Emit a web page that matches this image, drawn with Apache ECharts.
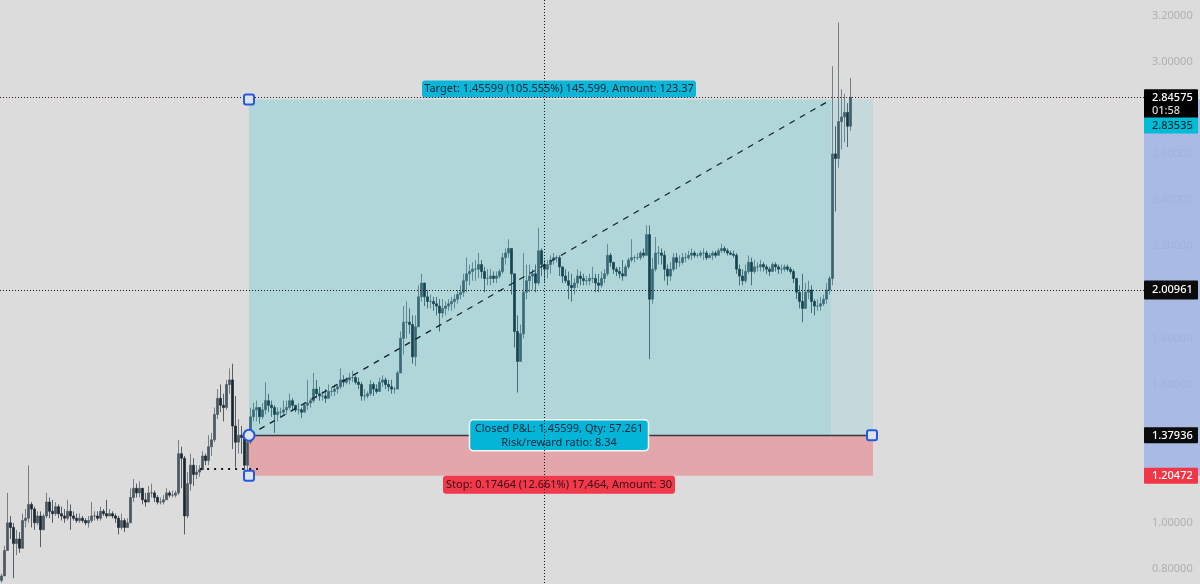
<!DOCTYPE html>
<html><head><meta charset="utf-8">
<style>html,body{margin:0;padding:0;background:#dcdcdc}#c{width:1200px;height:584px}</style>
<script src="https://cdn.jsdelivr.net/npm/echarts@6/dist/echarts.min.js"></script>
</head><body><div id="c"></div>
<script>
const firstOpen = 0.75;
const closes = [
0.77,0.88,1.00,0.98,0.91,0.93,0.89,1.01,1.02,1.08,
1.06,1.00,1.03,0.97,1.03,1.09,1.05,1.04,1.07,1.04,
1.03,1.02,1.05,1.03,1.02,1.01,1.02,1.01,1.00,1.01,
1.03,1.03,1.02,1.05,1.04,1.03,1.04,1.03,1.02,0.98,
1.01,0.98,1.00,1.11,1.15,1.13,1.15,1.10,1.09,1.13,
1.13,1.11,1.09,1.09,1.10,1.13,1.12,1.12,1.13,1.30,
1.28,1.03,1.17,1.25,1.21,1.22,1.23,1.29,1.27,1.33,
1.36,1.47,1.54,1.51,1.50,1.60,1.62,1.42,1.35,1.38,
1.37,1.25,1.35,1.46,1.49,1.50,1.46,1.49,1.53,1.51,
1.50,1.47,1.48,1.48,1.49,1.50,1.53,1.51,1.49,1.49,
1.48,1.51,1.52,1.53,1.58,1.56,1.55,1.55,1.54,1.57,
1.57,1.58,1.59,1.62,1.61,1.62,1.63,1.63,1.61,1.60,
1.55,1.55,1.56,1.60,1.58,1.57,1.61,1.62,1.60,1.59,
1.58,1.58,1.65,1.80,1.87,1.87,1.86,1.72,1.85,1.98,
2.04,1.98,1.96,1.96,1.95,1.94,1.91,1.93,1.94,1.95,
1.96,1.97,1.99,2.00,2.05,2.08,2.09,2.10,2.10,2.12,
2.09,2.06,2.06,2.07,2.06,2.07,2.09,2.15,2.17,2.19,
2.08,1.83,1.70,1.82,2.00,2.05,2.07,2.08,2.04,2.18,
2.12,2.10,2.12,2.14,2.15,2.15,2.11,2.07,2.05,2.03,
2.02,2.04,2.07,2.06,2.05,2.05,2.06,2.06,2.04,2.03,
2.06,2.08,2.16,2.13,2.10,2.09,2.08,2.07,2.11,2.14,
2.15,2.15,2.15,2.17,2.16,2.25,1.97,2.10,2.17,2.17,
2.16,2.10,2.07,2.10,2.15,2.13,2.13,2.15,2.15,2.16,
2.17,2.16,2.16,2.17,2.17,2.15,2.16,2.17,2.16,2.18,
2.19,2.18,2.17,2.165,2.16,2.10,2.07,2.05,2.09,2.13,
2.09,2.11,2.11,2.12,2.11,2.10,2.09,2.12,2.11,2.10,
2.10,2.11,2.10,2.09,2.06,2.00,1.96,1.93,2.00,2.01,
1.96,1.94,1.94,1.95,1.97,2.01,2.06,2.60,2.58,2.74,
2.76,2.78,2.72,2.84575];
const lows = [
0.74,0.77,0.88,0.93,0.76,0.86,0.87,0.90,0.98,1.00,
0.98,0.97,0.99,0.895,0.98,1.02,1.02,1.00,1.03,1.02,
1.01,1.00,1.01,0.97,1.01,1.00,1.00,1.00,0.99,0.98,
1.00,1.01,1.01,1.01,1.03,1.02,1.03,1.02,1.00,0.95,
0.97,0.96,0.98,1.00,1.09,1.11,1.11,1.08,1.07,1.09,
1.11,1.09,1.08,1.08,1.08,1.10,1.11,1.11,1.11,1.12,
1.15,0.95,1.02,1.14,1.16,1.19,1.20,1.23,1.25,1.25,
1.29,1.35,1.45,1.48,1.44,1.49,1.56,1.32,1.24,1.30,
1.30,1.23,1.22,1.34,1.44,1.44,1.43,1.45,1.47,1.48,
1.46,1.39,1.44,1.46,1.47,1.47,1.49,1.49,1.48,1.47,
1.455,1.48,1.49,1.50,1.52,1.54,1.53,1.53,1.52,1.54,
1.55,1.55,1.56,1.58,1.59,1.60,1.60,1.61,1.60,1.58,
1.53,1.53,1.54,1.55,1.55,1.56,1.57,1.59,1.58,1.57,
1.56,1.56,1.58,1.65,1.73,1.80,1.82,1.69,1.68,1.88,
1.96,1.94,1.93,1.93,1.92,1.90,1.83,1.89,1.90,1.92,
1.92,1.93,1.95,1.97,1.98,2.00,2.03,2.05,2.05,2.06,
2.06,2.00,2.03,2.03,2.04,2.04,2.06,2.08,2.12,2.15,
1.99,1.76,1.565,1.70,1.80,1.97,2.00,2.01,2.00,2.03,
2.07,2.04,2.06,2.08,2.12,2.13,2.07,2.04,2.04,1.97,
1.96,1.99,2.02,2.03,2.03,2.03,2.03,2.04,2.00,2.00,
2.02,2.04,2.07,2.11,2.08,2.07,2.06,2.05,2.07,2.10,
2.13,2.13,2.14,2.14,2.15,2.16,1.71,1.95,2.09,2.12,
2.12,2.05,2.03,2.05,2.09,2.10,2.11,2.12,2.13,2.14,
2.14,2.15,2.15,2.15,2.14,2.14,2.15,2.14,2.15,2.16,
2.17,2.17,2.16,2.16,2.15,2.08,2.03,2.03,2.04,2.08,
2.03,2.08,2.09,2.09,2.09,2.08,2.07,2.09,2.09,2.08,
2.08,2.09,2.09,2.08,2.04,1.97,1.93,1.87,1.95,1.97,
1.91,1.90,1.92,1.92,1.94,1.95,1.99,2.03,2.35,2.54,
2.62,2.65,2.63,2.70];
const highs = [
0.78,0.90,1.13,1.03,1.00,0.97,0.96,1.04,1.06,1.25,
1.09,1.07,1.05,1.05,1.04,1.13,1.11,1.10,1.09,1.08,
1.07,1.06,1.10,1.08,1.05,1.04,1.04,1.03,1.02,1.03,
1.09,1.05,1.05,1.07,1.06,1.10,1.06,1.05,1.04,1.03,
1.04,1.02,1.02,1.15,1.19,1.17,1.18,1.14,1.13,1.16,
1.17,1.14,1.12,1.11,1.12,1.15,1.14,1.14,1.14,1.36,
1.33,1.29,1.22,1.30,1.28,1.25,1.25,1.31,1.30,1.38,
1.39,1.50,1.58,1.60,1.56,1.62,1.67,1.69,1.55,1.45,
1.42,1.40,1.38,1.50,1.52,1.53,1.50,1.52,1.61,1.56,
1.53,1.51,1.50,1.50,1.53,1.53,1.56,1.54,1.51,1.52,
1.50,1.52,1.62,1.54,1.65,1.62,1.59,1.57,1.58,1.60,
1.59,1.60,1.60,1.67,1.64,1.63,1.65,1.66,1.64,1.63,
1.61,1.58,1.57,1.62,1.61,1.60,1.63,1.64,1.63,1.62,
1.62,1.59,1.66,1.83,1.94,1.96,1.93,1.90,1.90,2.03,
2.08,2.04,2.01,1.99,1.98,1.98,1.97,1.97,1.96,1.97,
1.98,1.99,2.01,2.03,2.08,2.15,2.12,2.13,2.14,2.17,
2.14,2.11,2.10,2.10,2.09,2.09,2.10,2.17,2.19,2.23,
2.19,2.08,1.90,1.86,2.17,2.12,2.12,2.10,2.12,2.28,
2.19,2.14,2.14,2.16,2.17,2.16,2.16,2.10,2.10,2.09,
2.08,2.06,2.10,2.09,2.08,2.07,2.08,2.11,2.08,2.08,
2.09,2.10,2.21,2.17,2.13,2.11,2.11,2.14,2.12,2.15,
2.23,2.16,2.17,2.18,2.19,2.29,2.29,2.15,2.24,2.20,
2.19,2.18,2.12,2.13,2.17,2.17,2.16,2.17,2.17,2.18,
2.19,2.18,2.17,2.18,2.19,2.18,2.17,2.18,2.18,2.19,
2.21,2.20,2.19,2.18,2.18,2.17,2.12,2.10,2.12,2.16,
2.15,2.14,2.13,2.14,2.13,2.12,2.11,2.13,2.13,2.12,
2.12,2.12,2.12,2.11,2.10,2.05,2.03,2.08,2.04,2.05,
2.03,1.97,1.97,1.98,1.99,2.04,2.07,2.98,2.72,3.17,
2.88,2.86,2.82,2.93];

const entryPrice = 1.37936, targetPrice = 2.83535, stopPrice = 1.20472;
const crossPriceA = 2.84575, crossPriceB = 2.00961, stopHitPrice = 1.235;
const entryBar = 83, exitBar = 277, endBar = 291, crossBar = 181.3;
const stopHitFrom = 66.7, stopHitTo = 86;
const targetText = 'Target: 1.45599 (105.555%) 145,599, Amount: 123.37';
const closedText = 'Closed P&L: 1.45599, Qty: 57.261\nRisk/reward ratio: 8.34';
const stopText = 'Stop: 0.17464 (12.661%) 17,464, Amount: 30';

const candles = closes.map((c, i) => [i + 0.5, i ? closes[i - 1] : firstOpen, c, lows[i], highs[i]]);
const FONT = '"Noto Sans", sans-serif';
const chart = echarts.init(document.getElementById('c'), null, {renderer: 'canvas'});
chart.setOption({
  animation: false,
  backgroundColor: '#dcdcdc',
  grid: {left: 0, top: -30.6, width: 1143, height: 645.7, containLabel: false, outerBoundsMode: 'none'},
  xAxis: {type: 'value', min: 0, max: 381, show: false},
  yAxis: {
    type: 'value', position: 'right', min: 0.6, max: 3.4, interval: 0.2, scale: true,
    axisLine: {show: false}, axisTick: {show: false}, splitLine: {show: false},
    axisLabel: {
      color: '#b0b0b0', fontFamily: FONT, fontSize: 11, margin: 9,
      showMinLabel: false, showMaxLabel: false,
      formatter: v => v.toFixed(5)
    }
  },
  series: [{
    type: 'candlestick', data: candles, encode: {x: 0, y: [1, 2, 3, 4]}, barWidth: 2, z: 3,
    itemStyle: {color: '#4a5660', color0: '#1b2630', borderColor: '#4a5660', borderColor0: '#1b2630', borderWidth: 0.7},
    markArea: {
      silent: true, z: 5,
      data: [
        [{xAxis: entryBar, yAxis: entryPrice, itemStyle: {color: 'rgba(0,188,212,0.2)'}}, {xAxis: exitBar, yAxis: targetPrice}],
        [{xAxis: exitBar, yAxis: entryPrice, itemStyle: {color: 'rgba(0,188,212,0.1)'}}, {xAxis: endBar, yAxis: targetPrice}],
        [{xAxis: entryBar, yAxis: stopPrice, itemStyle: {color: 'rgba(242,54,69,0.32)'}}, {xAxis: endBar, yAxis: entryPrice}]
      ]
    },
    markLine: {
      silent: true, symbol: 'none', label: {show: false}, z: 6,
      data: [
        [{coord: [entryBar, entryPrice], lineStyle: {color: '#333a40', width: 1.4, type: 'solid'}}, {coord: [endBar, entryPrice]}],
        [{coord: [entryBar, entryPrice], lineStyle: {color: '#14242c', width: 1.3, type: [6, 6]}}, {coord: [exitBar, targetPrice]}],
        [{coord: [stopHitFrom, stopHitPrice], lineStyle: {color: '#14181c', width: 2, type: [2, 5]}}, {coord: [stopHitTo, stopHitPrice]}]
      ]
    }
  }]
});

const px = (bar, price) => chart.convertToPixel({xAxisIndex: 0, yAxisIndex: 0}, [bar, price]);
const pxY = p => px(0, p)[1], pxX = b => px(b, 1)[0];
const W = 1200, H = 584, AX = 1144;
const g = [];
// price-axis highlight over the faint tick labels
g.push({type: 'rect', z: 100, shape: {x: AX, y: pxY(targetPrice), width: W - AX, height: pxY(stopPrice) - pxY(targetPrice)}, style: {fill: 'rgba(158,179,229,0.82)'}});
// boxed labels of the position tool
function box(cx, y, w, h, text, fill, color, opt = {}) {
  g.push({type: 'rect', z: 110, shape: {x: cx - w / 2, y, width: w, height: h, r: opt.r || 3},
    style: {fill, stroke: opt.stroke || null, lineWidth: opt.stroke ? 1.5 : 0}});
  g.push({type: 'text', z: 111, x: cx, y: y + h / 2, style: {text, fill: color, font: '11px ' + FONT, align: 'center', verticalAlign: 'middle', lineHeight: 14}});
}
const midX = pxX((entryBar + endBar) / 2) - 2;
box(midX, pxY(targetPrice) - 19, 274, 17, targetText, '#0db5d6', '#06283a');
box(midX, pxY(entryPrice) - 15.5, 179, 31, closedText, '#04b5d8', '#06283a', {stroke: '#f4f8fa', r: 4});
box(midX, pxY(stopPrice), 232, 18, stopText, '#f0394b', '#3c0a12');
// crosshair
const dotted = (x1, y1, x2, y2, c) => g.push({type: 'line', z: 120, shape: {x1, y1, x2, y2}, style: {stroke: c, lineWidth: 1, lineDash: [1, 2]}});
const cx = Math.round(pxX(crossBar)) + 0.5;
dotted(cx, 0, cx, H, '#1a1a1a');
dotted(0, Math.round(pxY(crossPriceA)) + 0.5, AX, Math.round(pxY(crossPriceA)) + 0.5, '#3a1a22');
dotted(0, Math.round(pxY(crossPriceB)) + 0.5, AX, Math.round(pxY(crossPriceB)) + 0.5, '#1a1a1a');
// handles
const HS = '#2459e0';
g.push({type: 'circle', z: 130, shape: {cx: pxX(entryBar), cy: pxY(entryPrice), r: 5.5}, style: {fill: '#dde3ea', stroke: HS, lineWidth: 2}});
const sq = (x, y) => g.push({type: 'rect', z: 130, shape: {x: x - 5, y: y - 5, width: 10, height: 10, r: 2}, style: {fill: '#dde3ea', stroke: HS, lineWidth: 2}});
sq(pxX(entryBar), pxY(targetPrice));
sq(pxX(entryBar), pxY(stopPrice));
sq(pxX(endBar) - 1, pxY(entryPrice));
// price tags
function tag(price, h, fill, color, extra, offs = 0) {
  const y = pxY(price) - h / 2 + offs;
  g.push({type: 'rect', z: 140, shape: {x: AX, y, width: 54, height: h, r: 1}, style: {fill}});
  g.push({type: 'text', z: 141, x: 1152, y: y + (extra ? 9 : h / 2), style: {text: price.toFixed(5), fill: color, font: '500 11px ' + FONT, align: 'left', verticalAlign: 'middle'}});
  if (extra) g.push({type: 'text', z: 141, x: 1152, y: y + 22, style: {text: extra, fill: '#d8d8d8', font: '500 11px ' + FONT, align: 'left', verticalAlign: 'middle'}});
}
tag(crossPriceA, 29, '#000000', '#ffffff', '01:58', 6.5);
tag(targetPrice, 16, '#00bcd4', '#06283a', null, 26);
tag(crossPriceB, 19, '#0b0b0b', '#ffffff');
tag(entryPrice, 16, '#0b0b0b', '#ffffff');
tag(stopPrice, 16, '#f23645', '#ffffff');
chart.setOption({graphic: {elements: g}});
</script></body></html>
